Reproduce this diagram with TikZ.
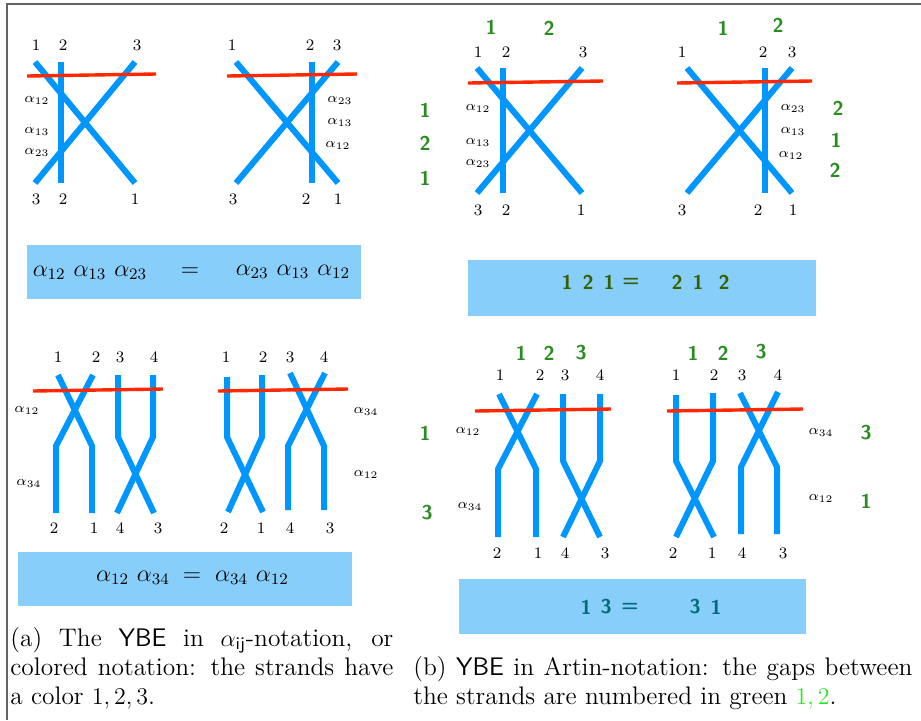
\documentclass[tikz,border=0pt]{standalone}
\usepackage{fontspec}
\definecolor{strand}{RGB}{0,150,255}
\definecolor{cutline}{RGB}{255,40,0}
\definecolor{boxblue}{RGB}{135,206,250}
\definecolor{gapgreen}{RGB}{40,140,30}
\definecolor{olivetxt}{RGB}{55,95,0}
\definecolor{tealtxt}{RGB}{0,110,120}
\definecolor{brightgreen}{RGB}{40,230,40}
\definecolor{framegray}{RGB}{100,100,100}
\tikzset{
  strandline/.style={draw=strand, line width=3pt},
  cut/.style={draw=cutline, line width=1.7pt},
  num/.style={font=\fontsize{8}{9}\selectfont, inner sep=0pt},
  alab/.style={font=\fontsize{7.5}{9}\selectfont, inner sep=0pt},
  gnum/.style={font=\fontsize{10}{12}\selectfont\sffamily\bfseries, text=gapgreen, inner sep=0pt},
  eqbox/.style={fill=boxblue},
  eqtext/.style={font=\fontsize{12}{14}\selectfont, inner sep=0pt},
  artin/.style={font=\fontsize{10}{12}\selectfont\sffamily\bfseries, inner sep=0pt},
  capt/.style={font=\fontsize{12.7}{14.3}\selectfont, inner sep=0pt, anchor=base west},
}
\begin{document}
\begin{tikzpicture}[x=0.5pt,y=-0.5pt]
\useasboundingbox (0,0) rectangle (921,720);
\draw[framegray, line width=1pt] (6.5,720) -- (6.5,3.5) -- (921,3.5);

% ---------- top left ----------
\draw[strandline] (35,62) -- (135,183);
\draw[strandline] (61,62) -- (61,183);
\draw[strandline] (135,62) -- (35,183);
\draw[cut] (27,76) -- (156,74);
\draw[strandline] (236,62) -- (338,183);
\draw[strandline] (312,62) -- (312,183);
\draw[strandline] (338,62) -- (236,183);
\draw[cut] (227,76) -- (357,74);
\foreach \t/\x/\y [count=\i] in {1/36/45,2/63/45,3/137/45,3/36/199,2/63/199,1/135/199,
  1/232/45,2/310/45,3/337/45,3/233/199,2/306/199,1/338/199}
  \node[num] (tln\i) at (\x,\y) {\t};
\foreach \t/\x/\y [count=\i] in {12/37/100,13/37/131,23/37/152,23/340/100,13/340/122,12/338/145}
  \node[alab] (tla\i) at (\x,\y) {$\alpha_{\t}$};
\fill[eqbox] (27,245) rectangle (361,299);
\node[eqtext] (eq1l) at (90,273) {$\alpha_{12}\ \alpha_{13}\ \alpha_{23}$};
\node[eqtext] (eq1m) at (190,272) {$=$};
\node[eqtext] (eq1r) at (293,272) {$\alpha_{23}\ \alpha_{13}\ \alpha_{12}$};

% ---------- top right ----------
\draw[strandline] (477,68) -- (582,193);
\draw[strandline] (503,68) -- (503,193);
\draw[strandline] (582,68) -- (477,193);
\draw[cut] (468,83) -- (603,81);
\draw[strandline] (687,68) -- (792,193);
\draw[strandline] (765,68) -- (765,193);
\draw[strandline] (792,68) -- (687,193);
\draw[cut] (677,83) -- (812,81);
\foreach \t/\x/\y [count=\i] in {1/478/52,2/506/52,3/583/52,3/478/210,2/506/210,1/581/210,
  1/682/52,2/763/52,3/792/52,3/682/210,2/758/210,1/793/210}
  \node[num] (trn\i) at (\x,\y) {\t};
\foreach \t/\x/\y [count=\i] in {12/478/108,13/478/142,23/478/163,23/793/108,13/793/131,12/791/155}
  \node[alab] (tra\i) at (\x,\y) {$\alpha_{\t}$};
\foreach \t/\x/\y [count=\i] in {1/491/27,2/549/28,1/723/28,2/778/25,
  1/425/110,2/425/143,1/425/178,2/838/108,1/836/140,2/835/170}
  \node[gnum] (trg\i) at (\x,\y) {\t};
\fill[eqbox] (468,260) rectangle (816,316);
\foreach \t/\x [count=\i] in {1/567,2/588,1/609,=/631,2/677,1/698,2/724}
  \node[artin, text=olivetxt] (eq2c\i) at (\x,282) {\t};

% ---------- bottom left ----------
\draw[strandline] (58,375) -- (92,446) -- (92,513);
\draw[strandline] (93,375) -- (56,446) -- (56,513);
\draw[strandline] (118,375) -- (118,437) -- (154,513);
\draw[strandline] (153,375) -- (153,437) -- (117,513);
\draw[cut] (33,391) -- (163,389);
\draw[strandline] (227,377) -- (227,437) -- (263,512);
\draw[strandline] (262,375) -- (262,437) -- (228,512);
\draw[strandline] (290,373) -- (324,446) -- (324,510);
\draw[strandline] (325,373) -- (288,446) -- (288,510);
\draw[cut] (218,391) -- (348,389);
\foreach \t/\x/\y [count=\i] in {1/58/357,2/96/357,3/120/357,4/154/357,2/54/528,1/94/528,4/120/528,3/158/528,
  1/226/357,2/263/357,3/290/357,4/324/357,2/224/528,1/261/528,4/290/528,3/330/528}
  \node[num] (bln\i) at (\x,\y) {\t};
\foreach \t/\x/\y [count=\i] in {12/27/410,34/29/483,34/366/411,12/366/474}
  \node[alab] (bla\i) at (\x,\y) {$\alpha_{\t}$};
\fill[eqbox] (18,552) rectangle (352,606);
\node[eqtext] (eq3l) at (133,578) {$\alpha_{12}\ \alpha_{34}$};
\node[eqtext] (eq3m) at (192,577) {$=$};
\node[eqtext] (eq3r) at (252,578) {$\alpha_{34}\ \alpha_{12}$};

% ---------- bottom right ----------
\draw[strandline] (499,394) -- (536,469) -- (536,537);
\draw[strandline] (537,394) -- (498,469) -- (498,537);
\draw[strandline] (563,394) -- (563,461) -- (600,537);
\draw[strandline] (600,394) -- (600,461) -- (563,537);
\draw[cut] (475,411) -- (611,409);
\draw[strandline] (676,395) -- (676,461) -- (714,537);
\draw[strandline] (713,393) -- (713,461) -- (676,537);
\draw[strandline] (740,393) -- (777,467) -- (777,534);
\draw[strandline] (778,392) -- (741,467) -- (741,534);
\draw[cut] (667,411) -- (803,409);
\foreach \t/\x/\y [count=\i] in {1/500/375,2/540/375,3/565/375,4/600/375,2/497/553,1/538/553,4/565/553,3/605/553,
  1/676/375,2/714/375,3/742/375,4/778/375,2/673/553,1/712/553,4/742/553,3/783/553}
  \node[num] (brn\i) at (\x,\y) {\t};
\foreach \t/\x/\y [count=\i] in {12/468/431,34/470/506,34/821/432,12/821/498}
  \node[alab] (bra\i) at (\x,\y) {$\alpha_{\t}$};
\foreach \t/\x/\y [count=\i] in {1/521/353,2/549/353,3/581/353,1/693/353,2/723/353,3/761/352,
  1/425/433,3/427/513,3/866/433,1/866/501}
  \node[gnum] (brg\i) at (\x,\y) {\t};
\fill[eqbox] (459,579) rectangle (806,634);
\foreach \t/\x [count=\i] in {1/586,3/606,=/630,3/695,1/716}
  \node[artin, text=tealtxt] (eq4c\i) at (\x,607) {\t};

% ---------- captions ----------
\node[capt] (capa1) at (10,646) {\makebox[191.5pt][s]{(a) The \textsf{YBE} in $\alpha_{\mathsf{ij}}$-notation, or}};
\node[capt] (capa2) at (10,675) {\makebox[191.5pt][s]{colored notation: the strands have}};
\node[capt] (capa3) at (10,704) {a color $1,2,3$.};
\node[capt] (capb1) at (413,675) {\makebox[249.5pt][s]{(b) \textsf{YBE} in Artin-notation: the gaps between}};
\node[capt] (capb2) at (413,704) {the strands are numbered in green \textcolor{brightgreen}{$1,2$}.};
\end{tikzpicture}
\end{document}
